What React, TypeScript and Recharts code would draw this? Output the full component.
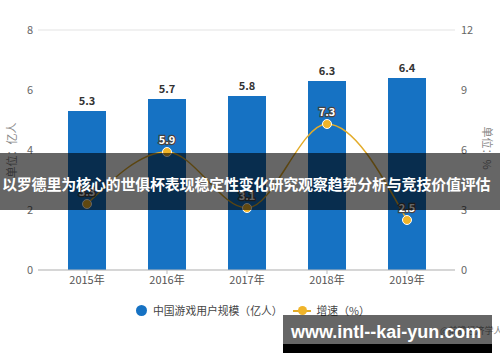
import { Bar, ComposedChart, Line, XAxis, YAxis, CartesianGrid, LabelList } from "recharts"

const years = ["2015年", "2016年", "2017年", "2018年", "2019年"]
const users = [5.3, 5.7, 5.8, 6.3, 6.4]
const growth = [3.3, 5.9, 3.1, 7.3, 2.5]
const leftTicks = [0, 2, 4, 6, 8]
const rightTicks = [0, 3, 6, 9, 12]

const data = years.map((name, i) => ({ name, users: users[i], growth: growth[i] }))

const font = '"Noto Sans CJK SC", "Noto Sans", sans-serif'

const outlinedLabel = (props: any) => {
  const { x, y, value } = props
  return (
    <text
      x={x}
      y={y - 8}
      textAnchor="middle"
      fontSize={11}
      fontWeight="bold"
      fill="#fff"
      stroke="#444"
      strokeWidth={2.5}
      paintOrder="stroke"
      fontFamily={font}
    >
      {value}
    </text>
  )
}

export default function App() {
  return (
    <div style={{ position: "fixed", top: 0, left: 0, width: 500, height: 362, background: "#fff", fontFamily: font, overflow: "hidden" }}>
      <ComposedChart width={500} height={300} data={data} margin={{ top: 30, right: 0, bottom: 0, left: 0 }}>
        <CartesianGrid vertical={false} stroke="#e3e3e3" />
        <XAxis
          dataKey="name"
          height={30}
          padding={{ left: 9, right: 8 }}
          stroke="#bbb"
          tickSize={4}
          tick={{ fill: "#555", fontSize: 11, fontFamily: font }}
        />
        <YAxis
          yAxisId="left"
          width={38}
          domain={[0, 8]}
          ticks={leftTicks}
          axisLine={false}
          tickLine={false}
          tickSize={3}
          tickMargin={2}
          tick={{ fill: "#666", fontSize: 11, fontFamily: font }}
        />
        <YAxis
          yAxisId="right"
          orientation="right"
          width={45}
          domain={[0, 12]}
          ticks={rightTicks}
          axisLine={false}
          tickLine={false}
          tickSize={3}
          tickMargin={3}
          tick={{ fill: "#666", fontSize: 11, fontFamily: font }}
        />
        <Bar yAxisId="left" dataKey="users" fill="#1672c3" barSize={38} isAnimationActive={false}>
          <LabelList dataKey="users" position="top" offset={6} fill="#333" fontSize={11} fontWeight="bold" fontFamily={font} />
        </Bar>
        <Line
          yAxisId="right"
          type="monotone"
          dataKey="growth"
          stroke="#e3ac2a"
          strokeWidth={1.5}
          dot={{ r: 4.5, fill: "#f0b429", stroke: "#fff", strokeWidth: 1 }}
          isAnimationActive={false}
        >
          <LabelList dataKey="growth" content={outlinedLabel} />
        </Line>
      </ComposedChart>

      <div style={{ position: "absolute", left: 11, top: 150, transform: "translate(-50%, -50%) rotate(-90deg)", fontSize: 11, color: "#888", whiteSpace: "nowrap" }}>
        单位：亿人
      </div>
      <div style={{ position: "absolute", left: 488, top: 148, transform: "translate(-50%, -50%) rotate(90deg)", fontSize: 11, color: "#888", whiteSpace: "nowrap" }}>
        单位：%
      </div>

      <div style={{ position: "absolute", top: 302, left: 136, display: "flex", alignItems: "center", fontSize: 10.8, color: "#444" }}>
        <span style={{ width: 11, height: 11, borderRadius: "50%", background: "#1672c3", marginRight: 6 }} />
        <span>中国游戏用户规模（亿人）</span>
        <span style={{ position: "relative", width: 18, height: 11, marginLeft: 10, marginRight: 6 }}>
          <span style={{ position: "absolute", left: 0, right: 0, top: 5, height: 2, background: "#e3ac2a" }} />
          <span style={{ position: "absolute", left: 5, top: 1, width: 9, height: 9, borderRadius: "50%", background: "#f0b429" }} />
        </span>
        <span>增速（%）</span>
      </div>

      <div style={{ position: "absolute", left: 440, top: 324, fontSize: 9, color: "#888", whiteSpace: "nowrap" }}>@前瞻经济学人APP</div>

      <div style={{ position: "absolute", left: 0, top: 153, width: 500, height: 57, background: "rgba(0,0,0,0.6)" }} />
      <div style={{ position: "absolute", left: 2, top: 172, fontSize: 15, fontWeight: "bold", color: "#fff", whiteSpace: "nowrap", lineHeight: "24px", letterSpacing: -0.2 }}>
        以罗德里为核心的世俱杯表现稳定性变化研究观察趋势分析与竞技价值评估
      </div>

      <div style={{ position: "absolute", left: 283, top: 315, width: 209, height: 29, background: "rgba(0,0,0,0.6)" }} />
      <div style={{ position: "absolute", left: 283, top: 344, width: 209, height: 9, background: "#000" }} />
      <div style={{ position: "absolute", left: 291, top: 320, fontSize: 18, fontWeight: "bold", color: "#fff", fontFamily: '"Liberation Sans", Arial, sans-serif', whiteSpace: "nowrap", lineHeight: "24px" }}>
        www.intl--kai-yun.com
      </div>
    </div>
  )
}
